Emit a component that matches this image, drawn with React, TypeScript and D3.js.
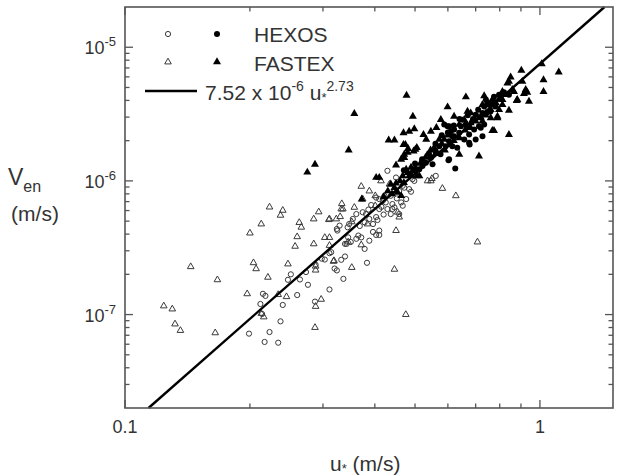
import React from "react";
import * as d3 from "d3";

// HEXOS, open circles  [u* (m/s), Ven (m/s)]
const hexosOpen: [number, number][] = [
  [0.215, 1.43e-7], [0.218, 1.38e-7], [0.212, 1.2e-7], [0.214, 1.01e-7], [0.199, 7.2e-8],
  [0.223, 7.4e-8], [0.217, 6.24e-8], [0.234, 6.16e-8], [0.237, 8.9e-8], [0.24, 1.18e-7],
  [0.247, 1.82e-7], [0.251, 2.0e-7], [0.26, 1.4e-7], [0.264, 1.83e-7], [0.273, 2.08e-7],
  [0.276, 1.67e-7], [0.287, 1.25e-7], [0.288, 2.36e-7], [0.298, 2.62e-7], [0.303, 2.58e-7],
  [0.311, 2.88e-7], [0.311, 1.54e-7], [0.32, 2.21e-7], [0.324, 2.14e-7], [0.332, 2.57e-7],
  [0.336, 1.85e-7], [0.339, 2.72e-7], [0.339, 3.38e-7], [0.324, 4.37e-7], [0.325, 4.25e-7],
  [0.329, 4.63e-7], [0.345, 3.78e-7], [0.314, 2.93e-7], [0.383, 2.44e-7], [0.378, 3.1e-7],
  [0.361, 3.69e-7], [0.388, 3.57e-7], [0.403, 3.94e-7], [0.396, 4.15e-7], [0.41, 4.25e-7],
  [0.561, 1.09e-6], [0.429, 1.19e-6], [0.45, 1.06e-6], [0.458, 8.4e-7], [0.471, 8.9e-7],
  [0.484, 8.68e-7], [0.476, 7.31e-7], [0.463, 6.9e-7], [0.467, 6.52e-7], [0.429, 6.16e-7],
  [0.437, 5.65e-7], [0.441, 6.16e-7], [0.41, 6.16e-7], [0.403, 5.36e-7], [0.406, 5.1e-7],
  [0.374, 5.83e-7], [0.381, 5.65e-7], [0.361, 5.65e-7], [0.378, 4.9e-7], [0.396, 4.76e-7],
  [0.388, 5.19e-7], [0.354, 5.19e-7], [0.347, 4.76e-7], [0.344, 4.5e-7], [0.41, 7.31e-7],
  [0.418, 7.1e-7], [0.403, 7.5e-7], [0.422, 7.74e-7], [0.429, 7.96e-7], [0.437, 7.74e-7],
  [0.493, 1.03e-6], [0.498, 1.0e-6], [0.489, 8.3e-7], [0.467, 9.2e-7], [0.446, 6.34e-7],
  [0.441, 6.71e-7], [0.458, 5.65e-7], [0.41, 3.94e-7], [0.342, 3.38e-7], [0.35, 3.49e-7],
  [0.371, 3.78e-7], [0.365, 3.9e-7], [0.392, 6.6e-7], [0.415, 6.4e-7], [0.425, 6.9e-7],
  [0.452, 7.4e-7], [0.386, 6.1e-7], [0.368, 4.6e-7], [0.42, 5.6e-7],
];

// HEXOS, filled circles
const hexosFilled: [number, number][] = [
  [0.625, 1.24e-6], [0.602, 1.43e-6], [0.677, 1.87e-6], [0.675, 1.93e-6], [0.7, 2.04e-6],
  [0.727, 2.16e-6], [0.588, 2.64e-6], [0.599, 2.56e-6], [0.61, 2.35e-6], [0.621, 2.16e-6],
  [0.734, 2.64e-6], [0.797, 4.41e-6], [0.775, 4.27e-6], [0.747, 3.83e-6], [0.741, 4.05e-6],
  [0.72, 2.5e-6], [0.604, 1.45e-6], [0.604, 1.98e-6], [0.615, 2.16e-6], [0.639, 2.29e-6],
  [0.593, 1.82e-6], [0.657, 2.04e-6], [0.675, 2.22e-6], [0.694, 2.42e-6], [0.713, 2.56e-6],
  [0.604, 2.56e-6], [0.621, 2.42e-6], [0.651, 2.87e-6], [0.7, 3.13e-6], [0.727, 3.22e-6],
  [0.734, 3.61e-6], [0.754, 3.72e-6], [0.768, 3.94e-6], [0.572, 1.82e-6], [0.561, 1.67e-6],
  [0.576, 1.58e-6], [0.546, 1.49e-6], [0.531, 1.37e-6], [0.551, 1.33e-6], [0.521, 1.29e-6],
  [0.512, 1.22e-6], [0.663, 2.64e-6], [0.645, 2.56e-6], [0.615, 1.82e-6], [0.632, 1.77e-6],
  [0.819, 4.6e-6], [0.842, 4.41e-6], [0.52, 1.45e-6], [0.54, 1.6e-6], [0.56, 1.9e-6],
  [0.58, 2.2e-6], [0.6, 2.3e-6], [0.62, 2.6e-6], [0.64, 2.9e-6], [0.67, 3.1e-6],
  [0.69, 2.9e-6], [0.71, 3.4e-6], [0.76, 3.3e-6], [0.78, 3.6e-6], [0.5, 1.35e-6],
  [0.47, 1.2e-6],
];

// FASTEX, open triangles
const fastexOpen: [number, number][] = [
  [0.124, 1.16e-7], [0.13, 1.1e-7], [0.132, 8.5e-8], [0.136, 7.6e-8], [0.144, 2.28e-7],
  [0.167, 1.82e-7], [0.165, 7.3e-8], [0.197, 1.43e-7], [0.2, 4.07e-7], [0.213, 4.76e-7],
  [0.223, 6.37e-7], [0.24, 6.02e-7], [0.237, 5.53e-7], [0.204, 2.44e-7], [0.207, 2.2e-7],
  [0.221, 1.9e-7], [0.213, 1.02e-7], [0.216, 9.6e-8], [0.234, 1.41e-7], [0.245, 1.36e-7],
  [0.247, 2.39e-7], [0.257, 3.24e-7], [0.26, 3.82e-7], [0.263, 4.88e-7], [0.266, 4.5e-7],
  [0.285, 5.19e-7], [0.293, 5.86e-7], [0.31, 5.13e-7], [0.285, 3.38e-7], [0.303, 3.77e-7],
  [0.311, 3.77e-7], [0.319, 2.53e-7], [0.288, 2.3e-7], [0.288, 2.15e-7], [0.288, 1.15e-7],
  [0.297, 1.3e-7], [0.287, 8.0e-8], [0.333, 6.75e-7], [0.332, 6.16e-7], [0.33, 5.4e-7],
  [0.311, 3.29e-7], [0.318, 2.5e-7], [0.352, 2.25e-7], [0.446, 2.18e-7], [0.371, 3.32e-7],
  [0.345, 3.49e-7], [0.45, 4.25e-7], [0.707, 3.49e-7], [0.627, 7.74e-7], [0.582, 8.78e-7],
  [0.536, 1.0e-6], [0.546, 1.0e-6], [0.323, 5.19e-7], [0.335, 6.16e-7], [0.311, 5.19e-7],
  [0.371, 9.1e-7], [0.388, 8.4e-7], [0.401, 7.74e-7], [0.414, 1.0e-6], [0.434, 9.45e-7],
  [0.374, 7.31e-7], [0.401, 6.52e-7], [0.357, 6.34e-7], [0.458, 5.36e-7], [0.454, 5.83e-7],
  [0.549, 1.04e-6], [0.475, 1.0e-7], [0.352, 4.94e-7], [0.384, 4.76e-7],
];

// FASTEX, filled triangles
const fastexFilled: [number, number][] = [
  [0.357, 3.19e-6], [0.346, 1.7e-6], [0.477, 4.36e-6], [0.494, 3.04e-6], [0.498, 2.45e-6],
  [0.599, 3.57e-6], [0.432, 2.02e-6], [0.446, 2.02e-6], [0.469, 2.29e-6], [0.484, 2.35e-6],
  [0.474, 1.87e-6], [0.481, 1.74e-6], [0.45, 1.31e-6], [0.403, 1.06e-6], [0.463, 1.45e-6],
  [0.471, 1.49e-6], [0.48, 1.63e-6], [0.496, 1.67e-6], [0.501, 1.72e-6], [0.476, 1.22e-6],
  [0.489, 1.26e-6], [0.501, 1.26e-6], [0.505, 1.09e-6], [0.484, 1.09e-6], [0.524, 2.22e-6],
  [0.546, 2.35e-6], [0.713, 1.53e-6], [0.639, 1.58e-6], [0.768, 2.38e-6], [0.842, 2.22e-6],
  [0.842, 3.37e-6], [0.79, 3.04e-6], [0.741, 3.22e-6], [0.812, 3.72e-6], [0.663, 4.24e-6],
  [0.734, 4.33e-6], [0.577, 2.87e-6], [0.621, 3.04e-6], [0.669, 3.31e-6], [0.681, 3.22e-6],
  [0.681, 2.72e-6], [0.713, 2.96e-6], [0.727, 2.8e-6], [0.775, 2.38e-6], [0.761, 2.96e-6],
  [0.79, 2.96e-6], [0.797, 3.41e-6], [0.783, 3.83e-6], [0.812, 4.05e-6], [0.827, 4.41e-6],
  [0.469, 1.87e-6], [0.471, 1.58e-6], [0.505, 1.77e-6], [0.493, 1.19e-6], [0.512, 1.09e-6],
  [0.902, 6.7e-6], [1.01, 7.5e-6], [1.11, 6.5e-6], [1.02, 5.7e-6], [1.02, 4.66e-6],
  [0.941, 3.93e-6], [0.924, 4.81e-6], [0.915, 4.5e-6], [0.932, 4.6e-6], [0.907, 5.54e-6],
  [0.85, 5.97e-6], [0.842, 5.54e-6], [0.835, 5.38e-6], [0.858, 4.81e-6], [0.866, 4.66e-6],
  [0.812, 4.66e-6], [0.819, 4.41e-6], [0.8, 4.17e-6], [0.882, 4.05e-6], [0.768, 4.05e-6],
  [0.754, 3.72e-6], [0.761, 3.41e-6], [0.727, 3.72e-6], [0.879, 3.98e-6], [0.287, 1.33e-6],
  [0.275, 1.16e-6], [0.41, 1.06e-6], [0.372, 7.31e-7], [0.437, 9.45e-7], [0.446, 8.9e-7],
  [0.467, 1.09e-6], [0.521, 1.37e-6], [0.541, 1.58e-6], [0.556, 1.77e-6], [0.572, 2.04e-6],
  [0.588, 2.04e-6], [0.611, 1.87e-6], [0.639, 2.64e-6], [0.657, 2.87e-6], [0.532, 2.04e-6],
  [0.563, 2.5e-6], [0.454, 8.2e-7], [0.463, 7.74e-7], [0.42, 7.6e-7], [0.43, 8.4e-7],
  [0.44, 8.0e-7], [0.45, 9.6e-7], [0.46, 1.0e-6], [0.47, 9.7e-7], [0.48, 1.15e-6],
  [0.49, 1.1e-6], [0.5, 1.2e-6], [0.515, 1.35e-6], [0.53, 1.5e-6], [0.545, 1.7e-6],
  [0.56, 1.6e-6], [0.58, 1.9e-6], [0.59, 1.7e-6], [0.6, 2.2e-6], [0.62, 2.0e-6],
  [0.64, 2.1e-6], [0.66, 2.4e-6], [0.68, 2.5e-6], [0.7, 2.8e-6], [0.72, 3.0e-6],
  [0.74, 3.1e-6],
];

// fit: Ven = 7.52e-6 * u*^2.73
const fitCoef = 7.52e-6;
const fitExp = 2.73;

const xDomain: [number, number] = [0.1, 1.5];
const yDomain: [number, number] = [2e-8, 2e-5];
const xMajor = [0.1, 1];
const xMajorLabels = ["0.1", "1"];
const xMinor = [0.2, 0.3, 0.4, 0.5, 0.6, 0.7, 0.8, 0.9];
const yMajorExp = [-7, -6, -5];

const W = 617;
const H = 476;
const margin = { top: 7, right: 4, bottom: 68, left: 125 };

const font = "'Liberation Sans', Arial, Helvetica, sans-serif";
const axisColor = "#555";
const textColor = "#333";

export default function App() {
  const x = d3.scaleLog().domain(xDomain).range([margin.left, W - margin.right]);
  const y = d3.scaleLog().domain(yDomain).range([H - margin.bottom, margin.top]);
  const [x0, x1] = x.range();
  const [y0, y1] = y.range(); // y0 bottom, y1 top

  // minor y ticks: 2..9 per decade inside the domain
  const yMinor: number[] = [];
  for (let e = -8; e <= -5; e++) {
    for (let m = 2; m <= 9; m++) {
      const v = m * Math.pow(10, e);
      if (v > yDomain[0] * 1.01 && v < yDomain[1] * 0.99) yMinor.push(v);
    }
  }

  // fit line clipped to the plot
  const uLo = Math.pow(yDomain[0] / fitCoef, 1 / fitExp);
  const uHi = Math.pow(yDomain[1] / fitCoef, 1 / fitExp);
  const fitLine = d3.line<number>()
    .x(u => x(u))
    .y(u => y(fitCoef * Math.pow(u, fitExp)))([uLo, uHi]);

  const triOpen = d3.symbol(d3.symbolTriangle, 19)()!;
  const triFilled = d3.symbol(d3.symbolTriangle, 28)()!;
  const rOpen = 2.6;
  const rFilled = 3;

  const majorLen = 8;
  const minorLen = 4.5;

  return (
    <svg width={W} height={H} style={{ position: "absolute", left: 0, top: 0, background: "#fff" }}
      fontFamily={font}>
      {/* data */}
      <g>
        {hexosOpen.map((d, i) => (
          <circle key={"ho" + i} cx={x(d[0])} cy={y(d[1])} r={rOpen}
            fill="none" stroke="#3a3a3a" strokeWidth={1} />
        ))}
        {fastexOpen.map((d, i) => (
          <path key={"fo" + i} d={triOpen} transform={`translate(${x(d[0])},${y(d[1])})`}
            fill="none" stroke="#3a3a3a" strokeWidth={1} />
        ))}
        {hexosFilled.map((d, i) => (
          <circle key={"hf" + i} cx={x(d[0])} cy={y(d[1])} r={rFilled} fill="#000" />
        ))}
        {fastexFilled.map((d, i) => (
          <path key={"ff" + i} d={triFilled} transform={`translate(${x(d[0])},${y(d[1])})`}
            fill="#000" />
        ))}
      </g>

      <path d={fitLine!} stroke="#000" strokeWidth={2.4} fill="none" />

      {/* frame */}
      <rect x={x0} y={y1} width={x1 - x0} height={y0 - y1} fill="none"
        stroke={axisColor} strokeWidth={1.6} />

      {/* ticks on all four sides, pointing inward */}
      <g stroke={axisColor} strokeWidth={1.3}>
        {xMajor.map(v => (
          <g key={"xM" + v}>
            <line x1={x(v)} x2={x(v)} y1={y0} y2={y0 - majorLen} />
            <line x1={x(v)} x2={x(v)} y1={y1} y2={y1 + majorLen} />
          </g>
        ))}
        {xMinor.map(v => (
          <g key={"xm" + v}>
            <line x1={x(v)} x2={x(v)} y1={y0} y2={y0 - minorLen} />
            <line x1={x(v)} x2={x(v)} y1={y1} y2={y1 + minorLen} />
          </g>
        ))}
        {yMajorExp.map(e => (
          <g key={"yM" + e}>
            <line x1={x0} x2={x0 + majorLen} y1={y(Math.pow(10, e))} y2={y(Math.pow(10, e))} />
            <line x1={x1} x2={x1 - majorLen} y1={y(Math.pow(10, e))} y2={y(Math.pow(10, e))} />
          </g>
        ))}
        {yMinor.map(v => (
          <g key={"ym" + v}>
            <line x1={x0} x2={x0 + minorLen} y1={y(v)} y2={y(v)} />
            <line x1={x1} x2={x1 - minorLen} y1={y(v)} y2={y(v)} />
          </g>
        ))}
      </g>

      {/* tick labels */}
      <g fill={textColor} fontSize={18}>
        {xMajor.map((v, i) => (
          <text key={"xl" + v} x={x(v)} y={y0 + 25} textAnchor="middle">{xMajorLabels[i]}</text>
        ))}
        {yMajorExp.map(e => (
          <text key={"yl" + e} x={x0 - 9} y={y(Math.pow(10, e)) + 7} textAnchor="end">
            10<tspan dy={-8} fontSize={13}>{e}</tspan>
          </text>
        ))}
      </g>

      {/* axis titles */}
      <g fill={textColor}>
        <text x={330} y={471} fontSize={21}>
          u<tspan fontSize={13} dy={2}>*</tspan><tspan dy={-2}> (m/s)</tspan>
        </text>
        <text x={8} y={185} fontSize={23}>
          V<tspan fontSize={16} dy={7}>en</tspan>
        </text>
        <text x={35} y={221} fontSize={21} textAnchor="middle">(m/s)</text>
      </g>

      {/* legend */}
      <g fill={textColor} fontSize={21}>
        <circle cx={168} cy={34} r={rOpen} fill="none" stroke="#3a3a3a" strokeWidth={1} />
        <circle cx={217} cy={34} r={rFilled} fill="#000" />
        <text x={254} y={42}>HEXOS</text>
        <path d={triOpen} transform="translate(168,62)" fill="none" stroke="#3a3a3a" strokeWidth={1} />
        <path d={triFilled} transform="translate(217,62)" fill="#000" />
        <text x={254} y={71}>FASTEX</text>
        <line x1={145} x2={197} y1={91} y2={91} stroke="#000" strokeWidth={2.4} />
        <text x={205} y={100}>
          7.52 x 10<tspan dy={-9} fontSize={14}>-6</tspan>
          <tspan dy={9}> u</tspan><tspan fontSize={13} dy={2}>*</tspan>
          <tspan dy={-11} fontSize={14}>{fitExp.toFixed(2)}</tspan>
        </text>
      </g>
    </svg>
  );
}
